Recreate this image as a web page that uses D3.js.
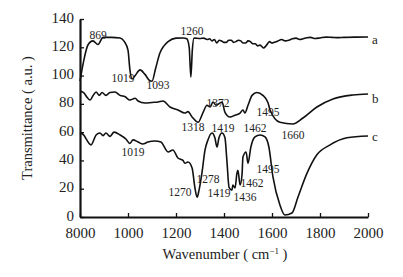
<!DOCTYPE html>
<html>
<head>
<meta charset="utf-8">
<script src="https://cdn.jsdelivr.net/npm/d3@7"></script>
<style>
body{margin:0;background:#fff;}
svg text{font-family:"Times New Roman","Liberation Serif","DejaVu Serif",serif !important;fill:#222;}
</style>
</head>
<body>
<script>
// spectra: wavenumber / transmittance
let aWave = [800,815,833,854,875,896,930,967,985,1000,1008,1017,1030,1050,1070,1090,1100,1115,1133,1150,1167,1200,1230,1245,1255,1262,1268,1275,1300,1315,1330,1340,1350,1360,1370,1380,1390,1400,1410,1420,1430,1440,1450,1460,1470,1480,1490,1500,1510,1520,1530,1540,1550,1558,1565,1575,1590,1600,1610,1625,1640,1655,1670,1685,1700,1715,1730,1745,1760,1780,1800,1825,1850,1875,1900,1950,2000];
let aVal  = [96,110,121.6,124.5,122,127,127,126.6,124,118,104,97.6,100,104,101,96.5,96,105,116,121,124,126.5,126.6,126,120,99,118,126.5,126.2,126.5,125.5,126,124.5,125.5,123,125,124.5,123.5,123.5,125,125,123.5,124,125,124.5,123,123,124.5,124,122.5,122.5,121,121.5,120.5,119.5,121,124,123,123.5,124.5,125.5,124.5,125,126,126.5,125.5,126,126.8,127,126.2,126.6,127.2,127,126.8,127,127.2,127.3];

let bWave = [800,815,830,842,855,867,880,892,908,925,946,967,988,1008,1030,1042,1070,1100,1125,1146,1175,1208,1237,1250,1267,1292,1313,1329,1342,1354,1367,1392,1404,1425,1446,1467,1479,1487,1500,1517,1537,1562,1583,1592,1633,1687,1729,1787,1854,1937,2000];
let bVal  = [89,88,84.5,82.7,86,88.4,86,88,86,88,88.4,86,85,82.7,84,82,80.6,81,81.3,82,77.8,75.7,73.5,74.5,70.7,67,74,79,77.8,81.3,79,81.3,74,70.7,72,73.5,75.7,73.5,79,86,88,86,81,75.7,67,65.8,70,77.8,83.5,86.3,87];

let cWave = [800,812,846,867,883,896,908,925,942,967,992,1008,1021,1042,1062,1083,1112,1137,1167,1187,1208,1229,1237,1250,1267,1279,1288,1296,1308,1321,1333,1350,1362,1371,1379,1392,1404,1412,1421,1433,1437,1446,1454,1458,1467,1475,1479,1492,1500,1512,1529,1550,1571,1587,1604,1633,1654,1683,1708,1746,1787,1842,1912,2000];
let cVal  = [59.5,58.5,51,58,59.4,57.5,59.4,57,60,58,55,52,54.5,53,51.6,53,53.7,53,46,47.4,41.7,40,38,38.9,34.7,20.5,14,19,31,47.4,54.5,59.4,56,49.5,56,59.4,56,40,21,19,22.6,20.5,31,33,22.6,29.7,42.4,46,38,49.5,56.6,58,56.6,49.5,28.3,8.5,1.4,2.8,14,31,44,51,56,57.3];

let xTicks = [800,1000,1200,1400,1600,1800,2000];
let xTickLabels = ["8000","1000","1200","1400","1600","1800","2000"];
let yTicks = [0,20,40,60,80,100,120,140];

// peak annotations
let peakText = ["869","1019","1093","1260","1372","1318","1419","1462","1495","1660","1019","1270","1278","1419","1436","1462","1495"];
let peakX    = [875,979,1125,1267,1375,1271,1396,1529,1583,1687,1021,1217,1333,1379,1487,1517,1583];
let peakY    = [128.7,98.3,93.4,131.5,80.6,63.6,62.9,62.9,74.3,58,46,17.7,26.9,17,14.1,24,34];

let seriesNames = ["a","b","c"];
let seriesEndY  = [125.2,83.5,56.6];

let width = 403, height = 277;
let svg = d3.select("body").append("svg").attr("width",width).attr("height",height);

let x = d3.scaleLinear().domain([800,2000]).range([80,368]);
let y = d3.scaleLinear().domain([0,140]).range([217,19]);

let line = d3.line().x(d=>x(d[0])).y(d=>y(d[1])).curve(d3.curveMonotoneX);

let series = [d3.zip(aWave,aVal), d3.zip(bWave,bVal), d3.zip(cWave,cVal)];

svg.selectAll("path.spec").data(series).enter().append("path")
   .attr("class","spec")
   .attr("fill","none").attr("stroke","#111").attr("stroke-width",1.6)
   .attr("stroke-linejoin","round")
   .attr("d",line);

let yAxis = d3.axisLeft(y).tickValues(yTicks).tickSizeInner(-4).tickSizeOuter(0).tickPadding(6);
let xAxis = d3.axisBottom(x).tickValues(xTicks).tickSizeInner(-4).tickSizeOuter(0).tickPadding(6)
              .tickFormat((d,i)=>xTickLabels[i]);

let gy = svg.append("g").attr("transform","translate(80,0)").call(yAxis);
let gx = svg.append("g").attr("transform","translate(0,217)").call(xAxis);
[gy,gx].forEach(g=>{
  g.attr("font-family",null);
  g.select(".domain").attr("stroke","#111").attr("stroke-width",2.2);
  g.selectAll(".tick line").attr("stroke","#111").attr("stroke-width",1.3);
  g.selectAll(".tick text").attr("font-size",15).attr("fill","#222");
});
gy.selectAll(".tick text").attr("dy","0.2em");
gx.selectAll(".tick text").attr("y",9).attr("dy","0.78em");

svg.selectAll("text.peak").data(peakText).enter().append("text")
   .attr("class","peak")
   .attr("x",(d,i)=>x(peakX[i])).attr("y",(d,i)=>y(peakY[i]))
   .attr("text-anchor","middle").attr("dominant-baseline","central")
   .attr("font-size",11.5)
   .text(d=>d);

svg.selectAll("text.sname").data(seriesNames).enter().append("text")
   .attr("class","sname")
   .attr("x",372).attr("y",(d,i)=>y(seriesEndY[i]))
   .attr("dominant-baseline","central")
   .attr("font-size",13)
   .text(d=>d);

svg.append("text").attr("transform","translate(32,118) rotate(-90)")
   .attr("text-anchor","middle").attr("font-size",14.5)
   .text("Transmittance ( a.u. )");

let xt = svg.append("text").attr("x",225).attr("y",259)
   .attr("text-anchor","middle").attr("font-size",14.5);
xt.append("tspan").text("Wavenumber ( cm");
xt.append("tspan").attr("dy",-5).attr("font-size",9).text("−1");
xt.append("tspan").attr("dy",5).text(" )");
</script>
</body>
</html>
